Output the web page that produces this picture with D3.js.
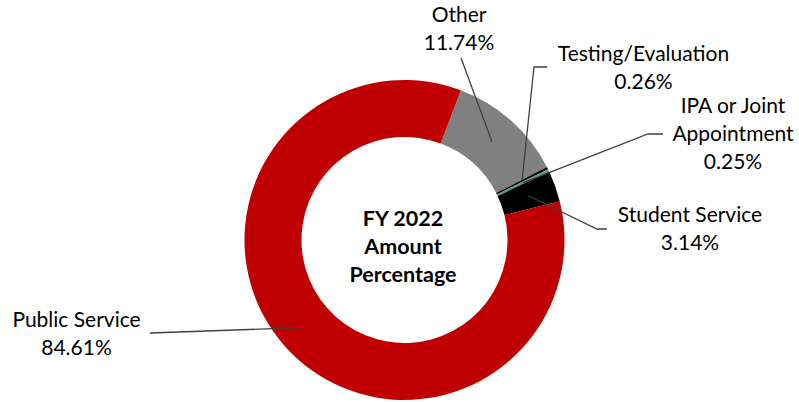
<!DOCTYPE html>
<html>
<head>
<meta charset="utf-8">
<script src="https://cdn.jsdelivr.net/npm/d3@7"></script>
<style>
  html, body { margin: 0; padding: 0; background: #fff; }
  svg { display: block; }
  text { font-family: Lato, "Open Sans", sans-serif; }
</style>
</head>
<body>
<svg id="chart" width="799" height="402"></svg>
<script>
// ---- data ----
const categories = ["Other", "Testing/Evaluation", "IPA or Joint Appointment", "Student Service", "Public Service"];
const values = [11.74, 0.26, 0.25, 3.14, 84.61];
const valueLabels = ["11.74%", "0.26%", "0.25%", "3.14%", "84.61%"];
const labelLines = [["Other"], ["Testing/Evaluation"], ["IPA or Joint", "Appointment"], ["Student Service"], ["Public Service"]];
const centerTitle = ["FY 2022", "Amount", "Percentage"];

// ---- layout / style ----
const colors = ["#808080", "#000000", "#5A9E80", "#000000", "#C00000"];
const W = 799, H = 402;
const cx = 404.5, cy = 240, rOuter = 160, rInner = 103;
const startDeg = 20.6;
const fontSize = 21, lineH = 28;
// label anchor: x centre, baseline of first line; leader line path points after the centroid
const labelLayout = [
  { x: 459, y: 22, leader: [[461, 58]] },
  { x: 643.5, y: 61, leader: [[534, 67], [547, 67]] },
  { x: 733, y: 113, leader: [[648, 134], [663, 134]] },
  { x: 690, y: 222, leader: [[597, 229], [607, 229]] },
  { x: 76.5, y: 327, leader: [[150, 333]] }
];

const svg = d3.select("#chart");
const g = svg.append("g").attr("transform", `translate(${cx},${cy})`);

const rad = startDeg * Math.PI / 180;
const pie = d3.pie().sort(null).value(d => d)
  .startAngle(rad).endAngle(rad + 2 * Math.PI);
const arcs = pie(values);
const arc = d3.arc().innerRadius(rInner).outerRadius(rOuter);

g.selectAll("path.slice").data(arcs).enter().append("path")
  .attr("class", "slice")
  .attr("d", arc)
  .attr("fill", (d, i) => colors[i]);

// leader lines
const line = d3.line();
arcs.forEach((a, i) => {
  const c = arc.centroid(a);
  const pts = [[c[0] + cx, c[1] + cy]].concat(labelLayout[i].leader);
  svg.append("path")
    .attr("d", line(pts))
    .attr("fill", "none")
    .attr("stroke", "#404040")
    .attr("stroke-width", 1.3);
});

// labels
labelLines.forEach((lines, i) => {
  const L = labelLayout[i];
  const t = svg.append("text")
    .attr("text-anchor", "middle")
    .attr("font-size", fontSize)
    .attr("fill", "#000");
  lines.concat([valueLabels[i]]).forEach((s, k) => {
    t.append("tspan").attr("x", L.x).attr("y", L.y + k * lineH).text(s);
  });
});

// centre title
const ct = svg.append("text")
  .attr("text-anchor", "middle")
  .attr("font-size", 21.5)
  .attr("font-weight", "bold")
  .attr("fill", "#000");
centerTitle.forEach((s, k) => {
  ct.append("tspan").attr("x", cx - 1.5).attr("y", 226 + k * 28).text(s);
});
</script>
</body>
</html>
